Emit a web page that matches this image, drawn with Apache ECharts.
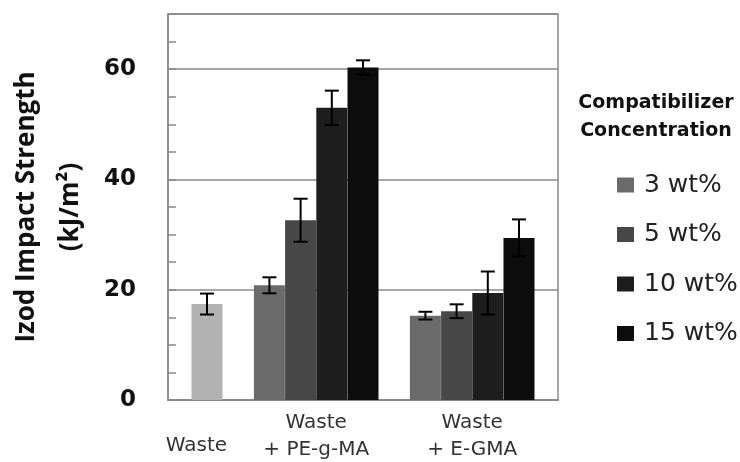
<!DOCTYPE html>
<html><head><meta charset="utf-8">
<script src="https://cdn.jsdelivr.net/npm/echarts@6/dist/echarts.min.js"></script>
<style>html,body{margin:0;padding:0;background:#fff}#c{width:740px;height:462px}</style>
</head><body><div id="c"></div>
<script>
// ---- data ----
var groupLabels = ['Waste', 'Waste\n+ PE-g-MA', 'Waste\n+ E-GMA'];
var seriesNames = ['3 wt%', '5 wt%', '10 wt%', '15 wt%'];
var wasteValue = 17.4, wasteErr = 1.9;
var peValues = [20.8, 32.6, 53.0, 60.3];
var peErrors = [1.45, 3.9, 3.1, 1.3];
var egmaValues = [15.3, 16.1, 19.4, 29.4];
var egmaErrors = [0.7, 1.25, 3.9, 3.35];
var yTicks = [0, 20, 40, 60];

// ---- layout (slot positions on a fine category axis) ----
var N = 25;
var wasteSlot = 2;
var peSlots = [6, 8, 10, 12];
var egmaSlots = [16, 18, 20, 22];
var labelSlots = [1, 9, 19];
var colors = ['#6b6b6b', '#474747', '#1d1d1d', '#0c0c0c'];

var cats = [];
for (var i = 0; i < N; i++) {
  var k = labelSlots.indexOf(i);
  if (k === 0) {
    cats.push({ value: 'c' + i, textStyle: { padding: [23, 0, 0, 10] } });
  } else {
    cats.push('c' + i);
  }
}
function emptyArr() { var a = []; for (var i = 0; i < N; i++) a.push(null); return a; }

var series = [];
var wasteData = emptyArr(); wasteData[wasteSlot] = wasteValue;
series.push({ name: 'Waste', type: 'bar', data: wasteData, barWidth: 31, barGap: '-100%',
  itemStyle: { color: '#b2b2b2' }, z: 2 });
for (var s = 0; s < 4; s++) {
  var d = emptyArr();
  d[peSlots[s]] = peValues[s];
  d[egmaSlots[s]] = egmaValues[s];
  series.push({ name: seriesNames[s], type: 'bar', data: d, barWidth: 31, barGap: '-100%',
    itemStyle: { color: colors[s] }, z: 2 });
}
var errData = [[wasteSlot, wasteValue - wasteErr, wasteValue + wasteErr]];
for (var s = 0; s < 4; s++) {
  errData.push([peSlots[s], peValues[s] - peErrors[s], peValues[s] + peErrors[s]]);
  errData.push([egmaSlots[s], egmaValues[s] - egmaErrors[s], egmaValues[s] + egmaErrors[s]]);
}
series.push({
  type: 'custom', name: 'err', data: errData, z: 5, encode: { x: 0, y: [1, 2] },
  renderItem: function (params, api) {
    var x = api.value(0);
    var lo = api.coord([x, api.value(1)]);
    var hi = api.coord([x, api.value(2)]);
    var hw = 7, st = { stroke: '#000', lineWidth: 2 };
    return { type: 'group', children: [
      { type: 'line', shape: { x1: lo[0], y1: lo[1], x2: hi[0], y2: hi[1] }, style: st },
      { type: 'line', shape: { x1: lo[0] - hw, y1: lo[1], x2: lo[0] + hw, y2: lo[1] }, style: st },
      { type: 'line', shape: { x1: hi[0] - hw, y1: hi[1], x2: hi[0] + hw, y2: hi[1] }, style: st }
    ] };
  }
});

var labelMap = {};
labelSlots.forEach(function (sl, k) { labelMap['c' + sl] = groupLabels[k]; });

var chart = echarts.init(document.getElementById('c'));
chart.setOption({
  animation: false,
  backgroundColor: '#fff',
  grid: { left: 168, right: 182, top: 14, bottom: 62, containLabel: false, outerBoundsMode: 'none',
    show: true, borderColor: '#8a8a8a', borderWidth: 1.5 },
  title: { text: 'Compatibilizer\nConcentration', left: 651, top: 84, textAlign: 'center',
    textStyle: { fontFamily: 'DejaVu Sans', fontWeight: 'bold', fontSize: 19, lineHeight: 28, color: '#111' } },
  legend: { data: seriesNames, orient: 'vertical', left: 612, top: 163, itemWidth: 17, itemHeight: 15,
    itemGap: 15.5, icon: 'rect',
    textStyle: { fontFamily: 'DejaVu Sans', fontSize: 25, lineHeight: 34, color: '#222', padding: [0, 0, 0, 5] } },
  xAxis: {
    type: 'category', data: cats, boundaryGap: true,
    axisLine: { show: true, lineStyle: { color: '#8a8a8a', width: 2 } },
    axisTick: { show: false },
    axisLabel: { interval: 0, margin: 9, verticalAlign: 'top', fontFamily: 'DejaVu Sans', fontSize: 20,
      lineHeight: 27, color: '#333', formatter: function (v) { return labelMap[v] || ''; } },
    splitLine: { show: false }
  },
  yAxis: [{
    type: 'value', min: 0, max: 70, interval: 20,
    name: 'Izod Impact Strength\n(kJ/m²)', nameLocation: 'middle', nameRotate: 90, nameGap: 74,
    nameTextStyle: { fontFamily: 'Open Sans', fontWeight: 'bold', fontSize: 26, lineHeight: 44, color: '#111' },
    axisLine: { show: true, lineStyle: { color: '#8a8a8a', width: 1.5 } },
    axisTick: { show: false },
    axisLabel: { showMaxLabel: false, margin: 32, fontFamily: 'DejaVu Sans', fontWeight: 'bold', fontSize: 23, color: '#111',
      formatter: function (v) { return yTicks.indexOf(v) >= 0 ? String(v) : ''; } },
    splitLine: { show: true, lineStyle: { color: '#8a8a8a', width: 1.5 } }
  }, {
    type: 'value', min: 0, max: 70, interval: 5, position: 'left',
    axisLine: { show: false }, axisLabel: { show: false }, splitLine: { show: false },
    axisTick: { show: true, inside: true, length: 8, lineStyle: { color: '#8a8a8a', width: 1.5 } }
  }],
  series: series
});
</script></body></html>
